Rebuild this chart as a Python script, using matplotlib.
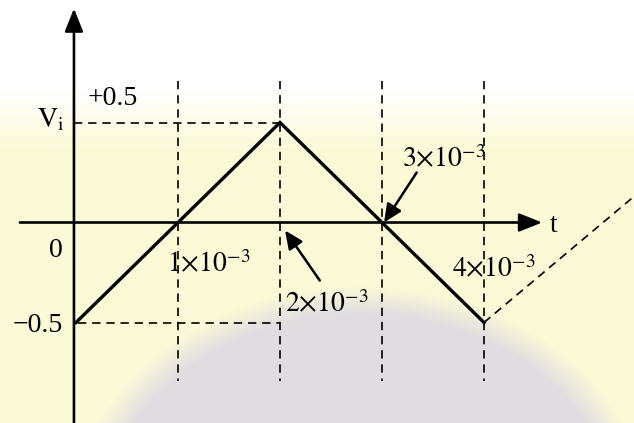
import numpy as np
import matplotlib
matplotlib.use("Agg")
import matplotlib.pyplot as plt

plt.rcParams['font.family'] = ['Liberation Serif', 'DejaVu Serif']
plt.rcParams['mathtext.fontset'] = 'stix'

# triangular input wave, t in ms, V in volts
wave_t = [0, 1, 2, 3, 4]
wave_v = [-0.5, 0, 0.5, 0, -0.5]
# dashed continuation after t = 4 ms
next_t = [4, 5.47]
next_v = [-0.5, 0.13]
# dashed reference lines
grid_t = [1, 2, 3, 4]
level_hi = 0.5
level_lo = -0.5
t_labels = [r'$1{\times}10^{-3}$', r'$2{\times}10^{-3}$', r'$3{\times}10^{-3}$', r'$4{\times}10^{-3}$']

W, H = 634, 423
fig = plt.figure(figsize=(W / 100, H / 100), dpi=100)
ax = fig.add_axes([0, 0, 1, 1])
ax.set_axis_off()

# pixel -> data mapping: t = (px - 76) / 102, V = (222.5 - py) / 200
x0, x1 = -76 / 102, (W - 76) / 102
y0, y1 = (222.5 - H) / 200, 222.5 / 200
ax.set_xlim(x0, x1)
ax.set_ylim(y0, y1)

# --- slide background: white top, pale yellow middle, grey arch below ---
yy, xx = np.mgrid[0:H, 0:W].astype(float)
white = np.array([1.0, 1.0, 1.0])
yellow = np.array([0.99, 0.98, 0.84])
grey = np.array([0.86, 0.85, 0.89])
s = np.clip((yy - 90) / 60, 0, 1)[..., None]
bg = white * (1 - s) + yellow * s
d = np.sqrt(((xx - 360) / 290) ** 2 + ((yy - 520) / 235) ** 2)
g = np.clip((1.0 - d) / 0.12, 0, 1)[..., None] * 0.85
bg = bg * (1 - g) + grey * g
ax.imshow(bg, extent=[x0, x1, y0, y1], aspect='auto', zorder=0)

dash = dict(color='black', lw=1.2, linestyle=(0, (5, 3.5)), zorder=2)

# vertical dashed lines
for t in grid_t:
    ax.plot([t, t], [0.71, -0.79], **dash)
# horizontal dashed levels
ax.plot([-0.02, 2], [level_hi, level_hi], **dash)
ax.plot([0.02, 2], [level_lo, level_lo], **dash)
# continuation
ax.plot(next_t, next_v, **dash)

# the wave
ax.plot(wave_t, wave_v, color='black', lw=2.4, solid_joinstyle='miter', zorder=3)

# axes with arrowheads
axis_arrow = dict(arrowstyle='-|>,head_length=0.7,head_width=0.28', color='black',
                  lw=1.9, mutation_scale=20, shrinkA=0, shrinkB=0)
ax.annotate('', xy=(4.57, 0), xytext=(-0.55, 0), arrowprops=axis_arrow, zorder=4)
ax.annotate('', xy=(-0.02, 1.07), xytext=(-0.02, y0 - 0.05), arrowprops=axis_arrow, zorder=4)

# pointer arrows
ptr = dict(arrowstyle='-|>,head_length=0.55,head_width=0.25', color='black',
           lw=1.8, mutation_scale=20, shrinkA=0, shrinkB=0)
ax.annotate('', xy=(2.05, -0.04), xytext=(2.39, -0.29), arrowprops=ptr, zorder=4)
ax.annotate('', xy=(3.02, 0.0), xytext=(3.34, 0.25), arrowprops=ptr, zorder=4)

fs = 20
ax.text(0.118, 0.5875, '+0.5', fontsize=fs, va='baseline', ha='left')
ax.text(-0.382, 0.478, r'$\mathrm{V}_{\mathrm{i}}$', fontsize=fs, va='baseline', ha='left')
ax.text(-0.265, -0.1725, '0', fontsize=fs, va='baseline', ha='left')
ax.text(-0.618, -0.5475, '\u22120.5', fontsize=fs, va='baseline', ha='left')
ax.text(4.647, -0.0475, 't', fontsize=fs, va='baseline', ha='left')

label_pos = [(0.892, -0.2475), (2.05, -0.4475), (3.196, 0.2775), (3.686, -0.2725)]
for (lx, ly), lab in zip(label_pos, t_labels):
    ax.text(lx, ly, lab, fontsize=fs, va='baseline', ha='left', zorder=5)

fig.savefig('out.png', dpi=100)
